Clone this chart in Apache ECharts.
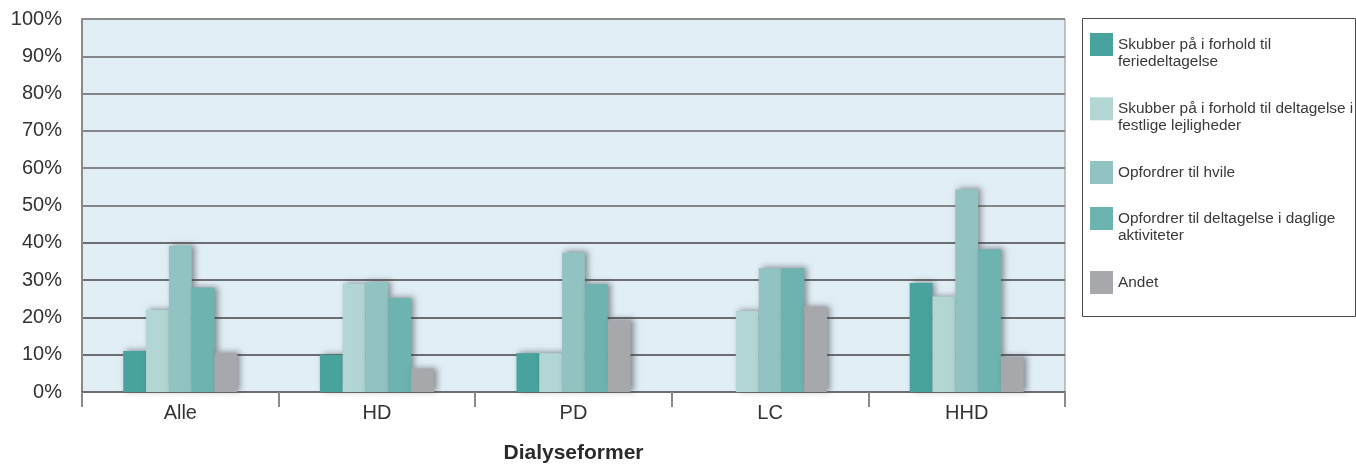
<!DOCTYPE html>
<html>
<head>
<meta charset="utf-8">
<script src="https://cdn.jsdelivr.net/npm/echarts@6/dist/echarts.min.js"></script>
<style>
  html, body { margin: 0; padding: 0; background: #ffffff; }
  #chart { width: 1356px; height: 469px; }
</style>
</head>
<body>
<div id="chart"></div>
<script>
// Dialysis forms on the x axis
const categories = ['Alle', 'HD', 'PD', 'LC', 'HHD'];

// Share of respondents (%) per answer option
const feriedeltagelse   = [11, 10, 10.4, null, 29.2];
const festligeLejligh   = [22, 29, 10.4, 21.7, 25.6];
const hvile             = [39.2, 29.5, 37.4, 33.2, 54.3];
const dagligeAktivitet  = [28, 25.2, 28.9, 33.2, 38.3];
const andet             = [10.4, 6.3, 19.2, 22.9, 9.3];

const seriesNames = [
  'Skubber på i forhold til feriedeltagelse',
  'Skubber på i forhold til deltagelse i festlige lejligheder',
  'Opfordrer til hvile',
  'Opfordrer til deltagelse i daglige aktiviteter',
  'Andet'
];
// Legend labels with their line breaks
const legendLabels = [
  'Skubber på i forhold til\nferiedeltagelse',
  'Skubber på i forhold til deltagelse i\nfestlige lejligheder',
  'Opfordrer til hvile',
  'Opfordrer til deltagelse i daglige\naktiviteter',
  'Andet'
];
const yTicks = [0, 10, 20, 30, 40, 50, 60, 70, 80, 90, 100];

const seriesValues = [feriedeltagelse, festligeLejligh, hvile, dagligeAktivitet, andet];
const colors = ['#48a39f', '#b2d6d4', '#91c3c2', '#6db3af', '#a7a8ab'];

const FONT = '"Liberation Sans", Arial, Helvetica, sans-serif';
const LINE_H = 17.4;
// icon top edge of each legend entry
const legendIconTops = [33, 97.3, 161, 207, 271];

// Two-line labels get a leading empty line so the first text line sits level with the icon
const legends = seriesNames.map((name, i) => {
  const twoLines = legendLabels[i].indexOf('\n') >= 0;
  return {
    data: [name],
    orient: 'vertical',
    left: 1090,
    top: twoLines ? legendIconTops[i] - 14.6 : legendIconTops[i],
    padding: 0,
    itemWidth: 23,
    itemHeight: 23,
    itemGap: 0,
    icon: 'rect',
    selectedMode: false,
    formatter: () => (twoLines ? '\n' : '') + legendLabels[i],
    textStyle: {
      fontFamily: FONT,
      fontSize: 15.4,
      color: '#3a3a3a',
      lineHeight: LINE_H
    }
  };
});

const chart = echarts.init(document.getElementById('chart'), null, { renderer: 'canvas' });

chart.setOption({
  animation: false,
  color: colors,
  grid: {
    left: 82, right: 291, top: 19, bottom: 72,
    show: true,
    backgroundColor: '#e1eef6',
    borderColor: '#8c8c8e',
    borderWidth: 1
  },
  legend: legends,
  graphic: [{
    type: 'rect',
    shape: { x: 1082.5, y: 18.5, width: 273, height: 298 },
    style: { fill: 'none', stroke: '#4a4a4a', lineWidth: 1 },
    silent: true
  }],
  xAxis: {
    type: 'category',
    data: categories,
    name: 'Dialyseformer',
    nameLocation: 'middle',
    nameGap: 51,
    nameTextStyle: { fontFamily: FONT, fontSize: 21, fontWeight: 'bold', color: '#2a2a2a' },
    axisLine: { show: true, lineStyle: { color: '#6d6e71', width: 2 } },
    axisTick: { show: true, length: 15, lineStyle: { color: '#8a8a8c', width: 2 } },
    axisLabel: { fontFamily: FONT, fontSize: 20, color: '#333333', margin: 11 }
  },
  yAxis: {
    type: 'value',
    min: 0, max: 100, interval: 10,
    axisLine: { show: true, lineStyle: { color: '#8a8a8c', width: 2 } },
    axisTick: { show: false },
    axisLabel: {
      fontFamily: FONT, fontSize: 20, color: '#333333', margin: 20,
      formatter: v => (yTicks.indexOf(v) >= 0 ? v + '%' : '')
    },
    splitLine: {
      show: true,
      lineStyle: {
        color: ['#6d6e71', '#6d6e71', '#6d6e71', '#6d6e71', '#6d6e71',
                '#858689', '#858689', '#858689', '#858689', '#858689', '#8c8c8e'],
        width: 2
      }
    }
  },
  series: seriesNames.map((name, i) => ({
    name: name,
    type: 'bar',
    data: seriesValues[i],
    barGap: '0%',
    barCategoryGap: '42%',
    itemStyle: {
      color: colors[i],
      shadowColor: 'rgba(60, 62, 66, 0.55)',
      shadowBlur: 6,
      shadowOffsetX: 3,
      shadowOffsetY: -1
    }
  }))
});
</script>
</body>
</html>
